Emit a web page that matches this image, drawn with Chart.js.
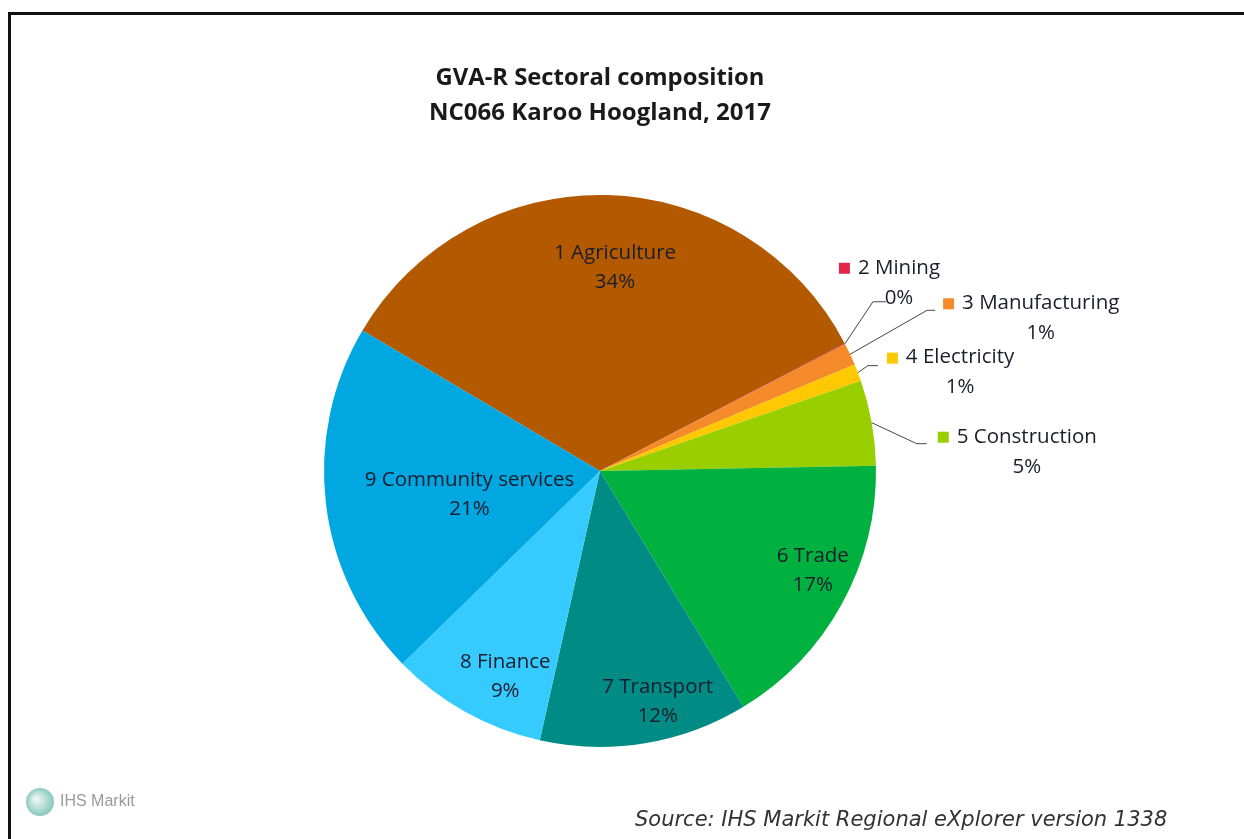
<!DOCTYPE html>
<html>
<head>
<meta charset="utf-8">
<script src="https://cdn.jsdelivr.net/npm/chart.js@4.4.1/dist/chart.umd.min.js"></script>
<style>
  body { margin: 0; background: #fff; }
  canvas { display: block; }
</style>
</head>
<body>
<canvas id="gvaPieCanvas" width="1244" height="839"></canvas>
<script>
// GVA-R sectoral composition, NC066 Karoo Hoogland 2017
const sectors = ['1 Agriculture', '2 Mining', '3 Manufacturing', '4 Electricity', '5 Construction',
  '6 Trade', '7 Transport', '8 Finance', '9 Community services'];
const shares = [33.85, 0.05, 1.3, 1.0, 5.0, 16.6, 12.2, 9.2, 20.8];
const sectorColors = ['#B35A00', '#E2264A', '#F58A2A', '#FFC800', '#99CF00',
  '#00B140', '#008C84', '#36CBFF', '#00A7E1'];
const titleLines = ['GVA-R Sectoral composition', 'NC066 Karoo Hoogland, 2017'];
const sourceText = 'Source: IHS Markit Regional eXplorer version 1338';

// label placement: inside labels [radius factor, angle shift deg]
const insideLabels = { 0: [0.74, 2.7], 5: [0.85, -3.9], 6: [0.86, -4.7], 7: [0.82, -4.4], 8: [0.48, -3.2] };
// outside labels, offsets from slice edge midpoint: key position, leader elbow, leader end
const outsideLabels = {
  1: { key: [-6, -76], elbow: [28, -42], end: [41, -42] },
  2: { key: [93, -51], elbow: [77, -44], end: [85, -44] },
  3: { key: [29, -15], elbow: [10, -7], end: [20, -7] },
  4: { key: [66, 14], elbow: [45, 21], end: [55, 21] }
};

const labelFont = '20.5px "Open Sans"';
const labelColor = '#1c1d2c';

const labelsPlugin = {
  id: 'sliceLabels',
  afterDraw(chart) {
    const ctx = chart.ctx;
    const arcs = chart.getDatasetMeta(0).data;
    const total = shares.reduce((a, b) => a + b, 0);
    ctx.save();
    ctx.font = labelFont;
    ctx.fillStyle = labelColor;
    ctx.textBaseline = 'middle';
    arcs.forEach((arc, i) => {
      const pct = Math.round(shares[i] / total * 100) + '%';
      const mid = (arc.startAngle + arc.endAngle) / 2;
      if (insideLabels[i]) {
        const [rf, shift] = insideLabels[i];
        const a = mid + shift * Math.PI / 180;
        const x = arc.x + Math.cos(a) * arc.outerRadius * rf;
        const y = arc.y + Math.sin(a) * arc.outerRadius * rf;
        ctx.textAlign = 'center';
        ctx.fillText(sectors[i], x, y - 14);
        ctx.fillText(pct, x, y + 15);
      } else if (outsideLabels[i]) {
        const o = outsideLabels[i];
        const ex = arc.x + Math.cos(mid) * arc.outerRadius;
        const ey = arc.y + Math.sin(mid) * arc.outerRadius;
        ctx.strokeStyle = '#444';
        ctx.lineWidth = 1;
        ctx.beginPath();
        ctx.moveTo(ex, ey);
        ctx.lineTo(ex + o.elbow[0], ey + o.elbow[1]);
        ctx.lineTo(ex + o.end[0], ey + o.end[1]);
        ctx.stroke();
        const kx = ex + o.key[0], ky = ey + o.key[1];
        ctx.fillStyle = sectorColors[i];
        ctx.fillRect(kx, ky - 5, 11, 11);
        ctx.fillStyle = labelColor;
        ctx.textAlign = 'left';
        const tx = kx + 19;
        ctx.fillText(sectors[i], tx, ky);
        const w = ctx.measureText(sectors[i]).width;
        ctx.textAlign = 'center';
        ctx.fillText(pct, tx + w / 2, ky + 30);
      }
    });
    ctx.restore();
  }
};

const framePlugin = {
  id: 'frameAndText',
  afterDraw(chart) {
    const ctx = chart.ctx;
    ctx.save();
    // frame (top and left edges)
    ctx.strokeStyle = '#111';
    ctx.lineWidth = 3;
    ctx.beginPath();
    ctx.moveTo(9.5, chart.height);
    ctx.lineTo(9.5, 13.5);
    ctx.lineTo(chart.width, 13.5);
    ctx.stroke();
    // title
    ctx.fillStyle = '#1a1a1a';
    ctx.textAlign = 'center';
    ctx.textBaseline = 'middle';
    ctx.font = 'bold 23.8px "Open Sans"';
    ctx.fillText(titleLines[0], 600, 78);
    ctx.font = 'bold 24px "Open Sans"';
    ctx.fillText(titleLines[1], 600, 113);
    // source
    ctx.font = 'oblique 21px "DejaVu Sans"';
    ctx.fillStyle = '#333';
    ctx.textAlign = 'left';
    ctx.fillText(sourceText, 635, 821);
    // IHS Markit logo
    const g = ctx.createRadialGradient(36, 799, 2, 40, 802, 15);
    g.addColorStop(0, '#e8f4f0');
    g.addColorStop(1, '#7fc6b8');
    ctx.fillStyle = g;
    ctx.beginPath();
    ctx.arc(40, 802, 14, 0, Math.PI * 2);
    ctx.fill();
    ctx.font = '16px "Liberation Sans"';
    ctx.fillStyle = '#9a9a9a';
    ctx.fillText('IHS Markit', 60, 802);
    ctx.restore();
  }
};

new Chart(document.getElementById('gvaPieCanvas').getContext('2d'), {
  type: 'pie',
  data: {
    labels: sectors,
    datasets: [{
      data: shares,
      backgroundColor: sectorColors,
      borderWidth: 0
    }]
  },
  options: {
    responsive: false,
    animation: false,
    rotation: -59.4,
    layout: { padding: { left: 324, right: 368, top: 195, bottom: 92 } },
    plugins: {
      legend: { display: false },
      tooltip: { enabled: false },
      title: { display: false }
    }
  },
  plugins: [labelsPlugin, framePlugin]
});
</script>
</body>
</html>
